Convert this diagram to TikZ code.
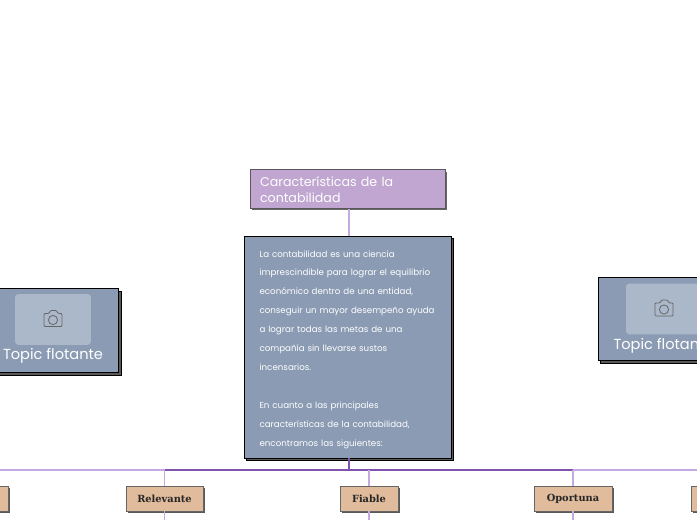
\documentclass[tikz,border=0pt]{standalone}
\usepackage{fontspec}
\setmainfont{Poppins}
\newfontfamily\slabfont{DejaVu Serif}
\usepackage{tikz}
\usetikzlibrary{calc,shadows}
\definecolor{titlefill}{HTML}{C0A6D1}
\definecolor{slatefill}{HTML}{8A9BB3}
\definecolor{slatelight}{HTML}{ABB8CA}
\definecolor{tanfill}{HTML}{E0BB9C}
\definecolor{linelight}{HTML}{C6A9E0}
\definecolor{linedark}{HTML}{7F52AE}
\tikzset{
  titlebox/.style={draw=black!65,line width=.5pt,fill=titlefill,minimum width=3.9cm,minimum height=.76cm,
    general shadow={fill=black!60,shadow xshift=.04cm,shadow yshift=-.04cm}},
  slatebox/.style={draw=black,line width=.5pt,fill=slatefill,
    general shadow={fill=black!65,draw=black,shadow xshift=.05cm,shadow yshift=-.05cm}},
  tanbox/.style={draw=black!60,line width=.5pt,fill=tanfill,minimum height=.5cm,font=\slabfont\bfseries\fontsize{5.6}{6}\selectfont,text=black!85,
    general shadow={fill=black!65,shadow xshift=.04cm,shadow yshift=-.04cm}},
  photobox/.style={fill=slatelight,rounded corners=2pt,minimum width=1.52cm,minimum height=1.02cm},
  floatlabel/.style={text=white,font=\fontsize{8.3}{10}\selectfont},
  camera/.style={draw=black!60,line width=.45pt,rounded corners=.6pt}
}
\begin{document}
\begin{tikzpicture}[x=.02cm,y=-.02cm]
\useasboundingbox (0,0) rectangle (697,520);
\clip (0,0) rectangle (697,520);

% connectors first
\coordinate (hub) at (349,470);
\coordinate (bottomedge) at (349,525);

% title and text
\node[titlebox,text=white,text width=3.5cm,align=left,font=\fontsize{7.2}{9}\selectfont] (title) at (347.5,189) {\rule{0pt}{6.4pt}Características de la\\contabilidad};
\node[slatebox,minimum width=4.14cm,minimum height=4.44cm,text=white,text width=3.52cm,align=left,font=\fontsize{4.95}{10.8}\selectfont] (body) at (347.5,347) {\rule{0pt}{6.9pt}La contabilidad es una ciencia\\imprescindible para lograr el equilibrio\\económico dentro de una entidad,\\conseguir un mayor desempeño ayuda\\a lograr todas las metas de una\\compañía sin llevarse sustos\\incensarios.\\[10.8pt]En cuanto a las principales\\características de la contabilidad,\\encontramos las siguientes:};

% row of boxes
\node[tanbox,minimum width=1.96cm] (leftcut) at (-40.5,498.5) {};
\node[tanbox,minimum width=1.54cm] (relevante) at (164.5,498.5) {Relevante};
\node[tanbox,minimum width=1.16cm] (fiable) at (369,498.5) {Fiable};
\node[tanbox,minimum width=1.56cm] (oportuna) at (573,498.5) {Oportuna};
\node[tanbox,minimum width=1.96cm] (rightcut) at (740,498.5) {};

\draw[linelight,line width=.7pt] (title.south -| hub) -- (body.north -| hub);
\draw[linelight,line width=.6pt] (hub -| leftcut) -- (hub -| rightcut);
\draw[linedark,line width=.6pt] (hub -| relevante) -- (hub -| oportuna);
\draw[linedark,line width=.8pt] (body.south -| hub) -- (hub);
\foreach \n in {relevante,fiable,oportuna}{
  \draw[linelight,line width=.6pt] (hub -| \n) -- (\n.north);
  \draw[linelight,line width=.6pt] (\n.south) -- (bottomedge -| \n);
}

% floating topics
\node[slatebox,minimum width=2.64cm,minimum height=1.68cm] (floatleft) at (52.5,330.5) {};
\node[photobox] (photoleft) at (53,319.5) {};
\node[floatlabel] (labelleft) at (53,356) {Topic flotante};
\node[slatebox,minimum width=2.62cm,minimum height=1.66cm] (floatright) at (663.5,319) {};
\node[photobox] (photoright) at (664,309) {};
\node[floatlabel] (labelright) at (663.5,345.5) {Topic flotante};

% camera icons
\foreach \n in {photoleft,photoright}{
  \draw[camera] ($(\n)+(-9,-6)$) -- ($(\n)+(-4,-6)$) -- ($(\n)+(-2.5,-9)$) -- ($(\n)+(3.5,-9)$) -- ($(\n)+(5,-6)$) -- ($(\n)+(9,-6)$) -- ($(\n)+(9,7)$) -- ($(\n)+(-9,7)$) -- cycle;
  \draw[camera] ($(\n)+(0,.5)$) circle (4.6);
}
\end{tikzpicture}
\end{document}
